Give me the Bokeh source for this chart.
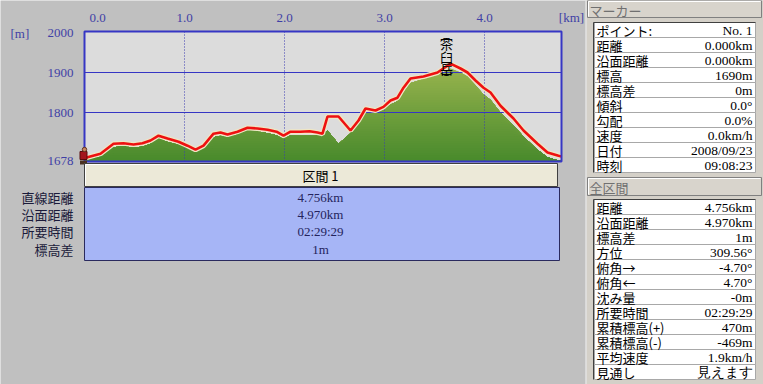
import numpy as np
from bokeh.plotting import figure
from bokeh.models import Range1d
from bokeh.core.properties import value
from bokeh.embed import file_html
from bokeh.resources import INLINE

# ---------------- data ----------------
dist_km = [0.00, 0.03, 0.16, 0.29, 0.39, 0.49, 0.58, 0.66, 0.74, 0.83,
           0.94, 1.03, 1.11, 1.19, 1.29, 1.36, 1.43, 1.53, 1.63, 1.73,
           1.83, 1.92, 1.99, 2.06, 2.16, 2.25, 2.33, 2.38, 2.43, 2.54,
           2.66, 2.74, 2.81, 2.91, 2.99, 3.06, 3.13, 3.19, 3.26, 3.39,
           3.53, 3.66, 3.76, 3.83, 3.91, 3.99, 4.06, 4.16, 4.29, 4.39,
           4.53, 4.63, 4.74, 4.77]
track_elev = [1686, 1688, 1697, 1722, 1723, 1720, 1723, 1730, 1742, 1735,
              1727, 1717, 1707, 1717, 1747, 1750, 1745, 1752, 1762, 1760,
              1757, 1752, 1742, 1752, 1752, 1753, 1750, 1747, 1790, 1790,
              1755, 1780, 1810, 1805, 1814, 1830, 1837, 1862, 1885, 1890,
              1900, 1922, 1910, 1900, 1880, 1862, 1850, 1817, 1785, 1755,
              1722, 1700, 1692, 1690]
terrain_elev = [1679, 1681, 1690, 1713, 1716, 1712, 1715, 1722, 1735, 1727,
                1720, 1710, 1700, 1710, 1738, 1742, 1738, 1745, 1757, 1753,
                1748, 1743, 1734, 1743, 1742, 1743, 1743, 1745, 1755, 1722,
                1748, 1772, 1800, 1797, 1806, 1820, 1828, 1850, 1874, 1884,
                1893, 1910, 1900, 1890, 1868, 1845, 1832, 1800, 1768, 1740,
                1707, 1688, 1680, 1679]

x_ticks = [0, 1, 2, 3, 4]
x_tick_labels = ["0.0", "1.0", "2.0", "3.0", "4.0"]
y_ticks = [1678, 1800, 1900, 2000]
y_tick_labels = ["1678", "1800", "1900", "2000"]
y_grid = [1800, 1900]
x_grid = [1, 2, 3, 4]
km_max = 4.77
elev_min, elev_max = 1677.5, 2002.5

peak_km = 3.62
peak_chars = ["︵", "茶", "臼", "岳", "︶"]

section_title = "区間 1"
section_labels = ["直線距離", "沿面距離", "所要時間", "標高差"]
section_values = ["4.756km", "4.970km", "02:29:29", "1m"]

marker_title = "マーカー"
marker_labels = ["ポイント:", "距離", "沿面距離", "標高", "標高差", "傾斜", "勾配", "速度", "日付", "時刻"]
marker_values = ["No. 1", "0.000km", "0.000km", "1690m", "0m", "0.0°", "0.0%", "0.0km/h", "2008/09/23", "09:08:23"]

total_title = "全区間"
total_labels = ["距離", "沿面距離", "標高差", "方位", "俯角→", "俯角←", "沈み量", "所要時間",
                "累積標高(+)", "累積標高(-)", "平均速度", "見通し"]
total_values = ["4.756km", "4.970km", "1m", "309.56°", "-4.70°", "4.70°", "-0m", "02:29:29",
                "470m", "-469m", "1.9km/h", "見えます"]

# ---------------- figure ----------------
W, H = 763, 384
BG = "#c0c0c0"
BLUE = "#3636c4"
TICK = "#3f3fa6"
SERIF = value("Liberation Serif")
CJK = value("Noto Sans CJK JP")

p = figure(width=W, height=H, x_range=Range1d(0, W), y_range=Range1d(H, 0),
           output_backend="svg", toolbar_location=None,
           x_axis_type=None, y_axis_type=None, min_border=0,
           outline_line_color=None, background_fill_color=BG,
           border_fill_color=BG)

# data scales placed on the canvas (100 px per km, 0.4 px per m)
p.extra_x_ranges = {"km": Range1d(-0.84, (W - 84) / 100.0)}
p.extra_y_ranges = {"elev": Range1d(1120, 2080)}
D = dict(x_range_name="km", y_range_name="elev")

# plot area background
p.quad(left=[0], right=[km_max], bottom=[elev_min], top=[elev_max],
       fill_color="#dcdcdc", line_color=None, **D)

# terrain with vertical gradient (bands)
km = np.array(dist_km, dtype=float)
ter = np.array(terrain_elev, dtype=float)
c_lo = np.array([72, 138, 44])
c_hi = np.array([156, 182, 80])

def col(e):
    t = min(max((e - 1678) / (1925 - 1678), 0), 1)
    c = (c_lo + (c_hi - c_lo) * t).astype(int)
    return "#%02x%02x%02x" % tuple(c)

p.varea(x=km, y1=elev_min, y2=ter, fill_color=col(1925), **D)
for L in np.arange(1915, 1680, -6):
    p.varea(x=km, y1=elev_min, y2=np.minimum(ter, L), fill_color=col(L - 3), **D)

# grid
p.segment(x0=[0] * len(y_grid), x1=[km_max] * len(y_grid), y0=y_grid, y1=y_grid,
          line_color=BLUE, line_width=1.2, **D)
p.segment(x0=x_grid, x1=x_grid, y0=[elev_min] * len(x_grid), y1=[elev_max] * len(x_grid),
          line_color="#3a3ab0", line_width=1, line_dash="1 2", **D)

# track line with light halo
p.line(x=dist_km, y=track_elev, line_color="#efe6c4", line_width=5, **D)
p.line(x=dist_km, y=track_elev, line_color="#ee1111", line_width=2.6, **D)

# frame
p.quad(left=[0], right=[km_max], bottom=[elev_min], top=[elev_max],
       fill_color=None, line_color=BLUE, line_width=2, **D)

# tick labels
p.text(x=x_ticks, y=[17] * len(x_ticks), text=x_tick_labels, x_range_name="km",
       x_offset=[13, 0, 0, 0, 0],
       text_font=SERIF, text_font_size="13px", text_color=TICK,
       text_align="center", text_baseline="middle")
p.text(x=[73] * len(y_ticks), y=y_ticks, text=y_tick_labels, y_range_name="elev",
       text_font=SERIF, text_font_size="13px", text_color=TICK,
       text_align="right", text_baseline="middle")
p.text(x=[10], y=[33], text=["[m]"], text_font=SERIF, text_font_size="13px",
       text_color=TICK, text_align="left", text_baseline="middle")
p.text(x=[571], y=[17], text=["[km]"], text_font=SERIF, text_font_size="13px",
       text_color=TICK, text_align="center", text_baseline="middle")

# peak name, written vertically
p.text(x=[peak_km] * len(peak_chars), y=[34, 43, 56, 68, 77],
       text=peak_chars, x_range_name="km", text_font=CJK, text_font_size="13px",
       text_color="#000000", text_align="center", text_baseline="middle")

# hiker marker at start
p.rect(x=[83], y=[155], width=7, height=8, fill_color="#a3141c", line_color="#5a0a0a")
p.circle(x=[84], y=[149], radius=2.2, fill_color="#c88860", line_color="#603020")
p.rect(x=[83], y=[162], width=7, height=4, fill_color="#4a3020", line_color=None)

# ---------------- section panel ----------------
p.quad(left=[84], right=[557], top=[163], bottom=[186], fill_color="#ece9d8",
       line_color="#404040", line_width=1)
p.segment(x0=[85, 85], y0=[164, 164], x1=[556, 85], y1=[164, 185],
          line_color="#ffffff", line_width=1)
p.text(x=[320], y=[175], text=[section_title], text_font=CJK, text_font_size="13px",
       text_color="#000000", text_align="center", text_baseline="middle")
p.quad(left=[84], right=[559], top=[187], bottom=[260], fill_color="#a6b5f6",
       line_color="#2a2a5e", line_width=1)
row_y = [197, 214, 231, 249]
p.text(x=[320] * 4, y=row_y, text=section_values, text_font=SERIF,
       text_font_size="13px", text_color="#24245c", text_align="center",
       text_baseline="middle")
p.text(x=[73] * 4, y=row_y, text=section_labels, text_font=CJK,
       text_font_size="13px", text_color="#1a1a3a", text_align="right",
       text_baseline="middle")

# ---------------- right panel ----------------
p.quad(left=[586], right=[W], top=[0], bottom=[H], fill_color="#d4d0c8", line_color=None)
p.segment(x0=[585.5], y0=[0], x1=[585.5], y1=[H], line_color="#f4f4f4", line_width=1)


def header(y0, y1, title):
    p.quad(left=[587], right=[761], top=[y0], bottom=[y1], fill_color="#d8d4cc",
           line_color="#808080", line_width=1)
    p.segment(x0=[588, 588], y0=[y0 + 1, y0 + 1], x1=[760, 588], y1=[y0 + 1, y1 - 1],
              line_color="#ffffff", line_width=1)
    p.text(x=[589], y=[(y0 + y1) / 2 + 1], text=[title], text_font=CJK,
           text_font_size="13px", text_color="#707070", text_align="left",
           text_baseline="middle")


def table(y0, labels, values, rh=15):
    n = len(labels)
    tops = [y0 + rh * i for i in range(n)]
    bots = [y0 + rh * (i + 1) for i in range(n)]
    p.quad(left=[594] * n, right=[755] * n, top=tops, bottom=bots,
           fill_color="#ffffff", line_color="#a8a8a8", line_width=1)
    p.segment(x0=[593, 593], y0=[y0, y0], x1=[755, 593], y1=[y0, y0 + rh * n],
              line_color="#404040", line_width=1)
    mids = [t + rh / 2 + 0.5 for t in tops]
    p.text(x=[596] * n, y=mids, text=labels, text_font=CJK, text_font_size="13px",
           text_color="#000000", text_align="left", text_baseline="middle")
    p.text(x=[752] * n, y=mids, text=values, text_font=SERIF, text_font_size="13.5px",
           text_color="#000000", text_align="right", text_baseline="middle")


header(0, 17, marker_title)
table(22, marker_labels, marker_values)
header(177, 195, total_title)
table(199, total_labels, total_values)

open("out.html", "w").write(file_html(p, INLINE))
